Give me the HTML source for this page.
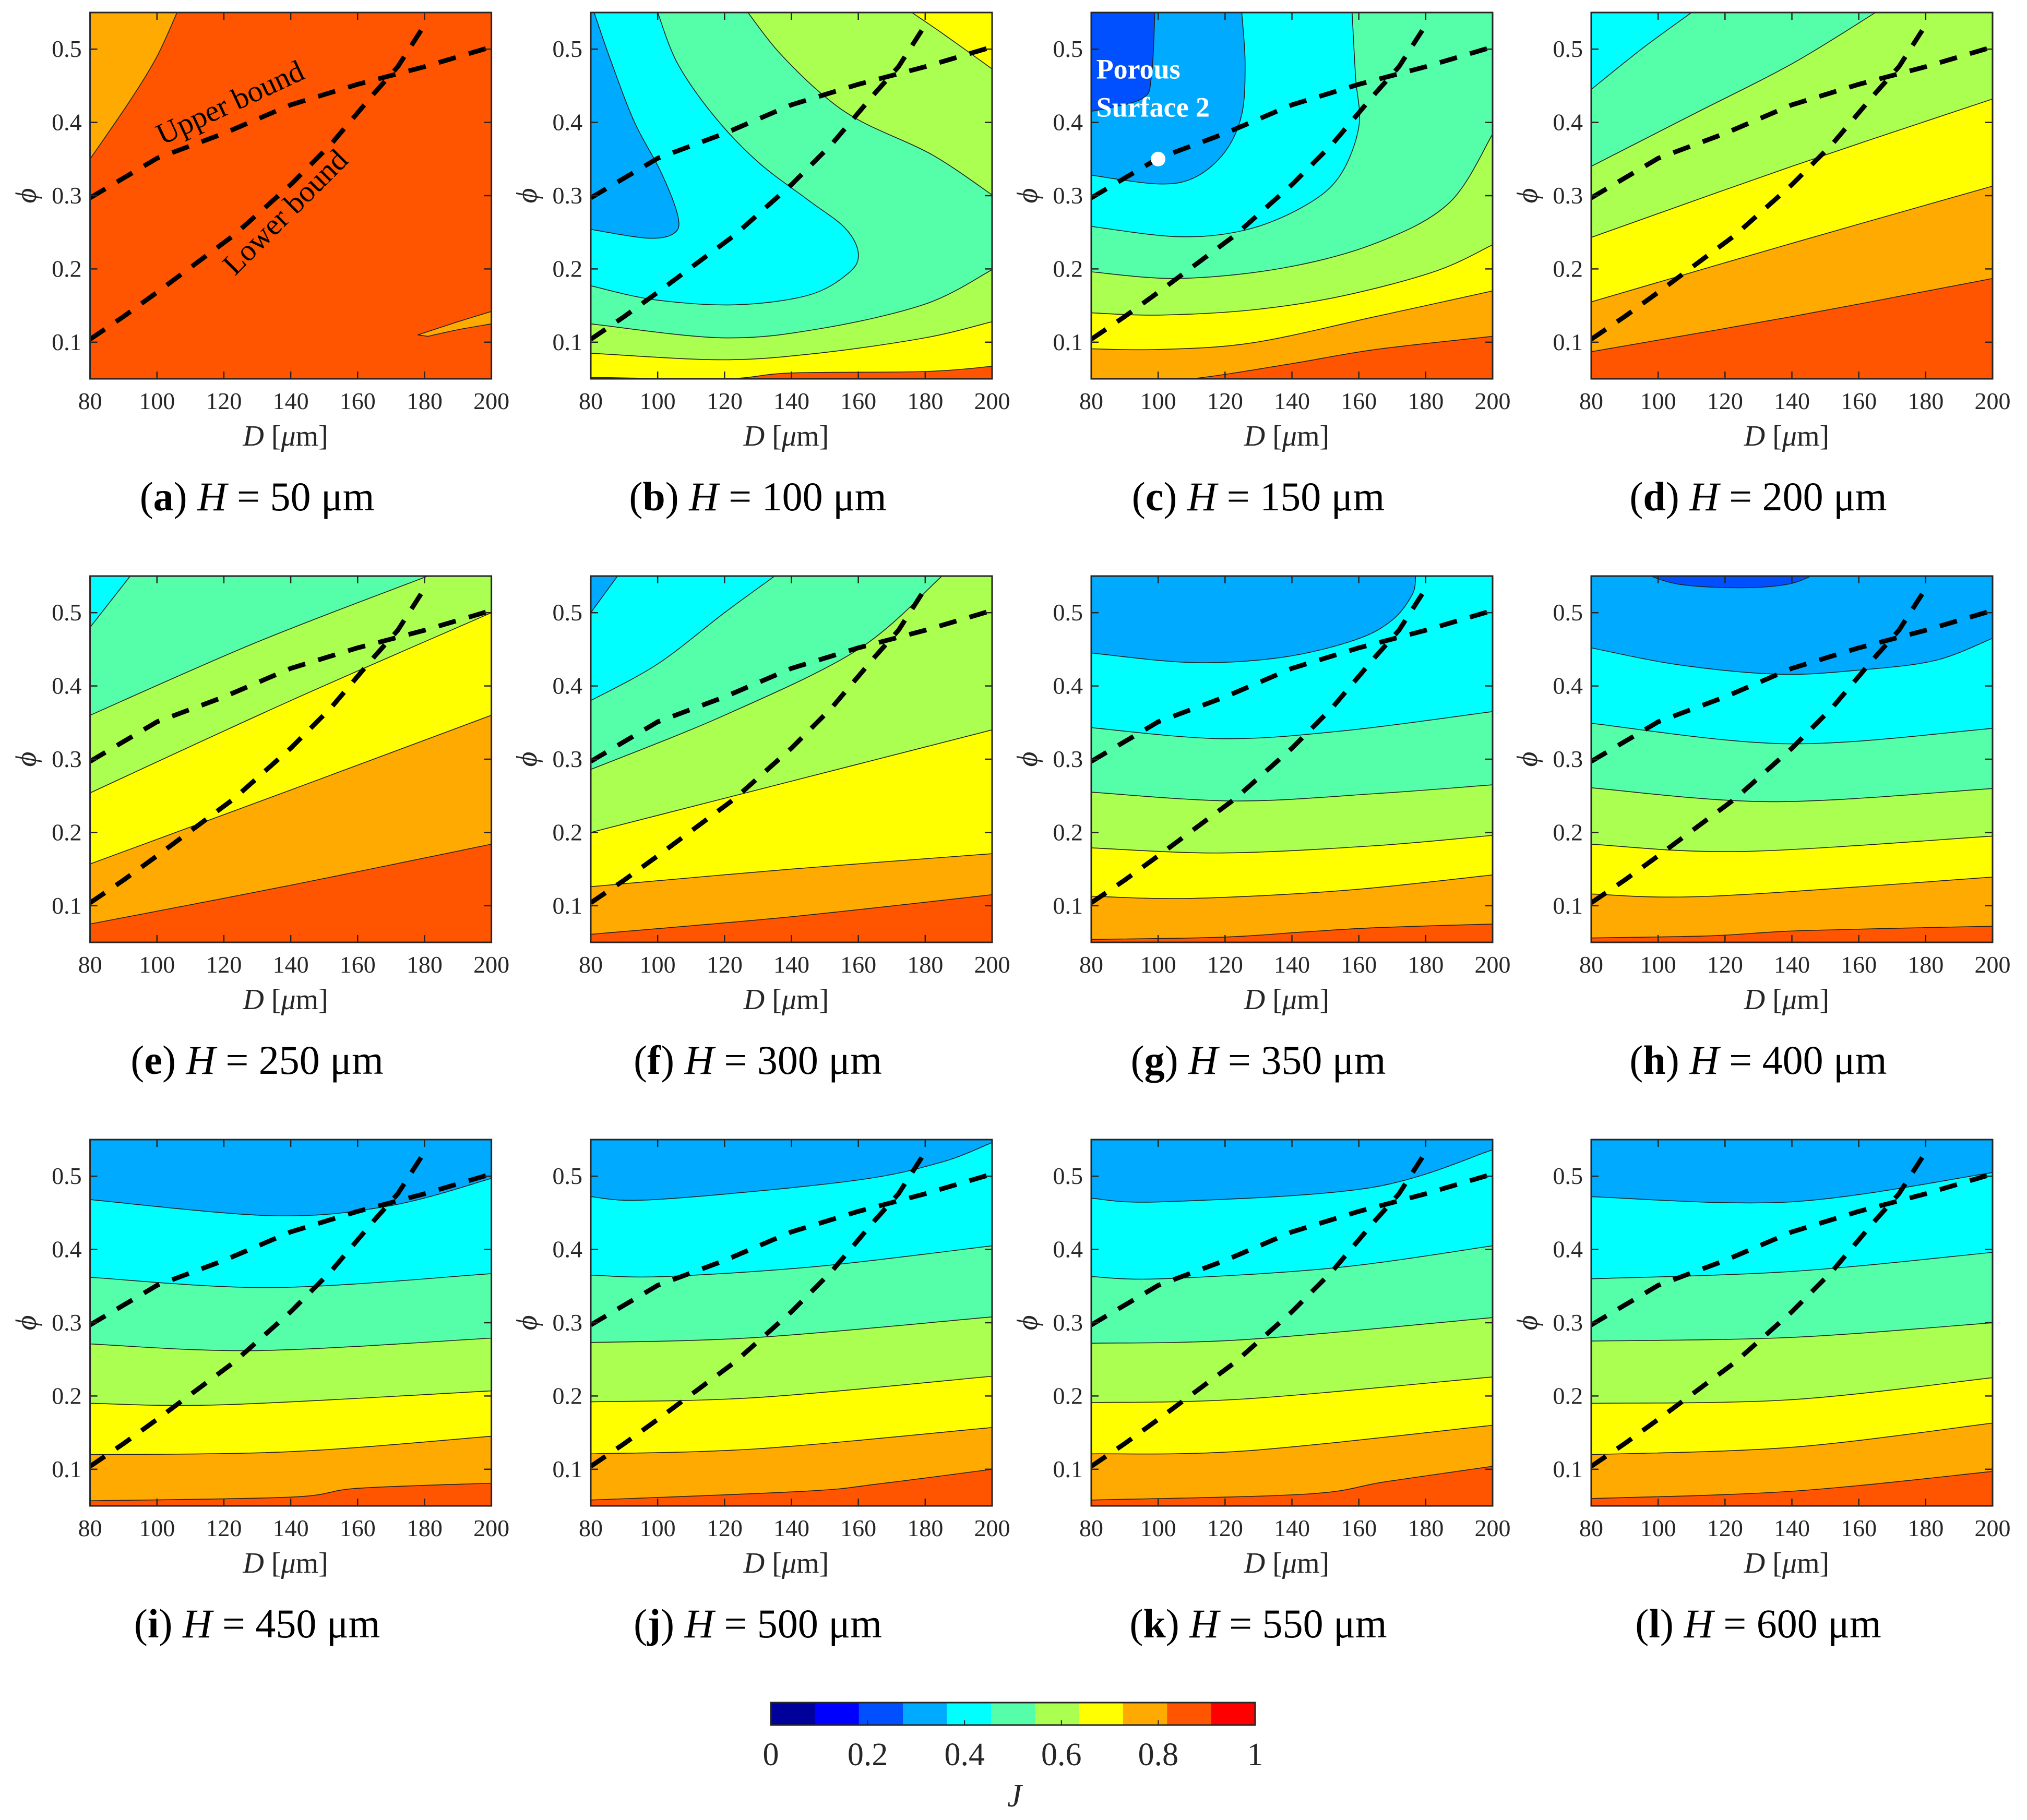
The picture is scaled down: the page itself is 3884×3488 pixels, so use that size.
<!DOCTYPE html>
<html><head><meta charset="utf-8"><style>
html,body{margin:0;padding:0;background:#fff;}
svg{display:block;}
text{font-family:"Liberation Serif",serif;fill:#262626;}
</style></head>
<body>
<svg id="fig" xmlns="http://www.w3.org/2000/svg" width="3884" height="3488" viewBox="0 0 3884 3488"></svg>
<script>
// ---------- data ----------
const COLORS = ['#00009a','#0000ff','#0050ff','#00aaff','#00ffff','#55ffaa','#aaff50','#ffff00','#ffaa00','#ff5500','#ff0000'];
const X_TICKS = [80,100,120,140,160,180,200];
const Y_TICKS = [0.1,0.2,0.3,0.4,0.5];
const CB_TICKS = [0,0.2,0.4,0.6,0.8,1];
const LETTERS = ['a','b','c','d','e','f','g','h','i','j','k','l'];
const H_VALUES = [50,100,150,200,250,300,350,400,450,500,550,600];
const UPPER_BOUND = [[80,0.297],[90,0.324],[100,0.351],[120,0.385],[140,0.424],[160,0.452],[180,0.476],[200,0.503]];
const LOWER_BOUND = [[80,0.104],[90,0.135],[100,0.168],[123,0.246],[140,0.315],[152,0.37],[165,0.44],[172,0.476],[181,0.54]];
const UP = [[215,0.7],[65,0.7]];
const panelA = [[8,[[80,0.35],[92,0.43],[100,0.49],[106,0.55]],[[106,0.7],[70,0.7],[70,0.35]]],
  [8,[[181,0.108],[190,0.117],[200,0.125]],[[200,0.142],[190,0.128],[178,0.11]]]];
const panelB = [[7,[[80,0.052],[120,0.05],[140,0.058],[180,0.06],[200,0.067]],UP],
  [6,[[80,0.085],[119,0.076],[148,0.085],[180,0.106],[200,0.128]],UP],
  [5,[[80,0.125],[119,0.106],[148,0.118],[180,0.152],[200,0.199]],UP],
  [4,[[80,0.177],[99,0.158],[123,0.151],[145,0.164],[157,0.194],[160,0.221],[156,0.256],[145,0.294],[130,0.346],[117,0.408],[106,0.48],[100,0.55]],[[98,0.7],[70,0.7],[70,0.177]]],
  [6,[[127,0.55],[136,0.497],[149,0.439],[161,0.401],[182,0.356],[200,0.301]],[[215,0.29],[215,0.7],[127,0.7]]],
  [7,[[176,0.55],[185,0.522],[200,0.473]],[[215,0.45],[215,0.7],[176,0.7]]],
  [3,[[81,0.55],[86,0.484],[93,0.401],[101,0.332],[106,0.273],[105,0.249],[97,0.242],[80,0.254]],[[70,0.254],[70,0.7],[81,0.7]]]];
const panelC = [[8,[[80,0.04],[110,0.05],[139,0.07],[165,0.09],[200,0.108]],UP],
  [7,[[80,0.091],[100,0.09],[128,0.099],[165,0.135],[200,0.17]],UP],
  [6,[[80,0.14],[100,0.137],[128,0.144],[155,0.163],[183,0.197],[200,0.233]],UP],
  [5,[[80,0.196],[106,0.187],[137,0.201],[165,0.235],[187,0.29],[200,0.384]],UP],
  [4,[[80,0.258],[106,0.244],[126,0.253],[143,0.284],[154,0.325],[160,0.394],[159,0.463],[158,0.55]],[[158,0.7],[70,0.7],[70,0.258]]],
  [3,[[80,0.328],[100,0.316],[111,0.325],[120,0.36],[125,0.411],[126,0.48],[125,0.55]],[[125,0.7],[70,0.7],[70,0.328]]],
  [2,[[99,0.55],[98,0.463],[95,0.432],[80,0.415]],[[70,0.415],[70,0.7],[99,0.7]]]];
const panelD = [[8,[[80,0.087],[140,0.135],[200,0.187]],UP],[7,[[80,0.155],[140,0.235],[200,0.313]],UP],
  [6,[[80,0.243],[140,0.34],[200,0.432]],UP],[5,[[80,0.34],[110,0.41],[140,0.48],[165,0.55]],UP],[4,[[80,0.445],[95,0.5],[110,0.55]],UP]];
const panelE = [[8,[[80,0.075],[140,0.128],[200,0.184]],UP],[7,[[80,0.157],[140,0.258],[200,0.36]],UP],
  [6,[[80,0.254],[140,0.38],[200,0.5]],UP],[5,[[80,0.36],[130,0.46],[181,0.55]],UP],[4,[[80,0.48],[92,0.55]],UP]];
const panelF = [[8,[[80,0.061],[140,0.085],[200,0.115]],UP],[7,[[80,0.126],[140,0.15],[200,0.171]],UP],
  [6,[[80,0.2],[140,0.27],[200,0.34]],UP],[5,[[80,0.286],[120,0.36],[160,0.45],[185,0.55]],UP],
  [4,[[80,0.38],[100,0.43],[120,0.5],[135,0.55]],UP],[3,[[80,0.5],[88,0.55]],UP]];
const panelG = [[8,[[80,0.054],[119,0.057],[143,0.064],[165,0.07],[200,0.075]],UP],
  [7,[[80,0.113],[110,0.11],[156,0.121],[200,0.142]],UP],
  [6,[[80,0.179],[119,0.172],[165,0.182],[200,0.196]],UP],
  [5,[[80,0.255],[123,0.243],[165,0.253],[200,0.265]],UP],
  [4,[[80,0.343],[119,0.328],[156,0.339],[200,0.365]],UP],
  [3,[[80,0.445],[110,0.432],[137,0.439],[159,0.463],[170,0.49],[176,0.525],[177,0.55]],UP]];
const panelH = [[8,[[80,0.056],[116,0.059],[143,0.066],[200,0.072]],UP],
  [7,[[80,0.116],[116,0.113],[200,0.139]],UP],
  [6,[[80,0.184],[125,0.174],[200,0.195]],UP],
  [5,[[80,0.261],[134,0.242],[200,0.26]],UP],
  [4,[[80,0.349],[139,0.321],[200,0.342]],UP],
  [3,[[80,0.452],[106,0.429],[136,0.416],[161,0.422],[183,0.435],[200,0.465]],UP],
  [2,[[95,0.555],[106,0.539],[124,0.534],[139,0.539],[148,0.555]],[[148,0.7],[95,0.7]]]];
const panelI = [[8,[[80,0.057],[140,0.062],[160,0.074],[200,0.081]],UP],[7,[[80,0.12],[140,0.124],[200,0.145]],UP],
  [6,[[80,0.19],[120,0.188],[200,0.207]],UP],[5,[[80,0.271],[130,0.262],[200,0.279]],UP],
  [4,[[80,0.362],[135,0.348],[200,0.367]],UP],[3,[[80,0.468],[135,0.446],[170,0.46],[200,0.497]],UP]];
const panelJ = [[8,[[80,0.058],[144,0.07],[166,0.08],[200,0.1]],UP],
  [7,[[80,0.121],[130,0.128],[200,0.157]],UP],
  [6,[[80,0.192],[130,0.198],[200,0.227]],UP],
  [5,[[80,0.273],[130,0.28],[200,0.308]],UP],
  [4,[[80,0.365],[102,0.363],[148,0.377],[200,0.405]],UP],
  [3,[[80,0.472],[99,0.468],[157,0.493],[184,0.518],[200,0.546]],UP]];
const panelK = [[8,[[80,0.058],[144,0.066],[168,0.083],[200,0.104]],UP],
  [7,[[80,0.121],[126,0.125],[200,0.16]],UP],
  [6,[[80,0.191],[126,0.196],[200,0.226]],UP],
  [5,[[80,0.272],[126,0.277],[200,0.307]],UP],
  [4,[[80,0.363],[101,0.36],[153,0.375],[200,0.405]],UP],
  [3,[[80,0.47],[101,0.465],[163,0.484],[200,0.536]],UP]];
const panelL = [[8,[[80,0.06],[140,0.07],[200,0.097]],UP],[7,[[80,0.12],[140,0.13],[200,0.163]],UP],
  [6,[[80,0.19],[140,0.195],[200,0.225]],UP],[5,[[80,0.275],[140,0.28],[200,0.3]],UP],
  [4,[[80,0.36],[140,0.37],[200,0.396]],UP],[3,[[80,0.472],[140,0.465],[200,0.505]],UP]];
const PANELS = [panelA,panelB,panelC,panelD,panelE,panelF,panelG,panelH,panelI,panelJ,panelK,panelL];
const BASE_COLOR = 9;

// ---------- layout ----------
const NS = 'http://www.w3.org/2000/svg';
const svg = document.getElementById('fig');
const COL_LEFT = [172.6,1132,2091,3049], ROW_TOP = [24,1104,2184], PW = 769, PH = 702;
function mk(tag, attrs, parent){ const e=document.createElementNS(NS,tag); for(const k in attrs) e.setAttribute(k,attrs[k]); (parent||svg).appendChild(e); return e; }

function smooth(pts){
  let d = 'M'+pts[0][0].toFixed(1)+','+pts[0][1].toFixed(1);
  for(let i=0;i<pts.length-1;i++){
    const p0=pts[Math.max(i-1,0)], p1=pts[i], p2=pts[i+1], p3=pts[Math.min(i+2,pts.length-1)];
    const c1=[p1[0]+(p2[0]-p0[0])/6, p1[1]+(p2[1]-p0[1])/6];
    const c2=[p2[0]-(p3[0]-p1[0])/6, p2[1]-(p3[1]-p1[1])/6];
    d += 'C'+c1[0].toFixed(1)+','+c1[1].toFixed(1)+' '+c2[0].toFixed(1)+','+c2[1].toFixed(1)+' '+p2[0].toFixed(1)+','+p2[1].toFixed(1);
  }
  return d;
}
function poly(pts){ return 'M'+pts.map(p=>p[0].toFixed(1)+','+p[1].toFixed(1)).join('L'); }

PANELS.forEach((layers, idx) => {
  const L = COL_LEFT[idx%4], T = ROW_TOP[Math.floor(idx/4)];
  const xs = D => L + (D-80)/120*PW;
  const ys = p => T + (0.55-p)/0.5*PH;
  const g = mk('g',{});
  
  
  const cp = mk('clipPath',{id:'clip'+idx}, g);
  mk('rect',{x:L,y:T,width:PW,height:PH}, cp);
  const plot = mk('g',{'clip-path':'url(#clip'+idx+')'}, g);
  const bg = mk('rect',{x:L,y:T,width:PW,height:PH,fill:COLORS[BASE_COLOR]}, plot);
  
  
  layers.forEach(layer => {
    const pts = layer[1].map(p=>[xs(p[0]),ys(p[1])]);
    let d = smooth(pts);
    layer[2].forEach(p => { d += 'L'+xs(p[0]).toFixed(1)+','+ys(p[1]).toFixed(1); });
    d += 'Z';
    const path = mk('path',{d:d,fill:COLORS[layer[0]],stroke:'#222','stroke-width':1.6}, plot);
    
    
  });
  [UPPER_BOUND, LOWER_BOUND].forEach((b,bi) => {
    const pl = mk('path',{d:poly(b.map(p=>[xs(p[0]),ys(p[1])])),fill:'none',stroke:'#000','stroke-width':9,'stroke-dasharray':'34 26','stroke-linejoin':'round'}, plot);
    
    
  });
  if(idx===0){
    const t1 = mk('text',{x:0,y:0,'font-size':58,style:'fill:#000',transform:'translate(449,214) rotate(-25)','text-anchor':'middle'}, plot);
    t1.textContent='Upper bound';
    
    
    const t2 = mk('text',{x:0,y:0,'font-size':58,style:'fill:#000',transform:'translate(560,420) rotate(-45)','text-anchor':'middle'}, plot);
    t2.textContent='Lower bound';
    
    
  }
  if(idx===2){
    const t = mk('text',{x:xs(81.5),y:ys(0.46),'font-size':54,'font-weight':'bold',style:'fill:#fff'}, plot);
    t.textContent='Porous';
    
    
    const t2 = mk('text',{x:xs(81.5),y:ys(0.408),'font-size':54,'font-weight':'bold',style:'fill:#fff'}, plot);
    t2.textContent='Surface 2';
    
    
    const dot = mk('circle',{cx:xs(100),cy:ys(0.35),r:14,fill:'#fff'}, plot);
    
    
  }
  const frame = mk('rect',{x:L,y:T,width:PW,height:PH,fill:'none',stroke:'#262626','stroke-width':3}, g);
  
  
  X_TICKS.forEach(v => {
    const x = xs(v);
    mk('line',{x1:x,y1:T+PH,x2:x,y2:T+PH-14,stroke:'#262626','stroke-width':2.5}, g);
    mk('line',{x1:x,y1:T,x2:x,y2:T+14,stroke:'#262626','stroke-width':2.5}, g);
    const t = mk('text',{x:x,y:T+PH+58,'font-size':46,'text-anchor':'middle'}, g);
    t.textContent = v;
    
    
  });
  Y_TICKS.forEach(v => {
    const y = ys(v);
    mk('line',{x1:L,y1:y,x2:L+14,y2:y,stroke:'#262626','stroke-width':2.5}, g);
    mk('line',{x1:L+PW,y1:y,x2:L+PW-14,y2:y,stroke:'#262626','stroke-width':2.5}, g);
    const t = mk('text',{x:L-16,y:y+15,'font-size':46,'text-anchor':'end'}, g);
    t.textContent = v.toFixed(1);
    
    
  });
  const xl = mk('text',{x:L+PW/2-10,y:T+PH+128,'font-size':56,'text-anchor':'middle'}, g);
  xl.innerHTML = '<tspan font-style="italic">D</tspan> [<tspan font-style="italic">μ</tspan>m]';
  
  
  const yl = mk('text',{x:0,y:0,'font-size':56,'font-style':'italic','text-anchor':'middle',transform:'translate('+(L-104)+','+ys(0.3)+') rotate(-90)'}, g);
  yl.textContent = 'ϕ';
  
  
  const cap = mk('text',{x:L+320,y:T+954,'font-size':78,'text-anchor':'middle',style:'fill:#000'}, g);
  cap.innerHTML = '(<tspan font-weight="bold">'+LETTERS[idx]+'</tspan>) <tspan font-style="italic">H</tspan> = '+H_VALUES[idx]+' μm';
  
  
});

// ---------- colorbar ----------
const CB_L = 1477, CB_R = 2405, CB_T = 3263, CB_B = 3306;
const cb = mk('g',{});


const segW = (CB_R-CB_L)/COLORS.length;
COLORS.forEach((c,i) => {
  const r = mk('rect',{x:CB_L+i*segW,y:CB_T,width:segW+0.5,height:CB_B-CB_T,fill:c}, cb);
  
  
});
mk('rect',{x:CB_L,y:CB_T,width:CB_R-CB_L,height:CB_B-CB_T,fill:'none',stroke:'#262626','stroke-width':3}, cb);
CB_TICKS.forEach(v => {
  const x = CB_L + v*(CB_R-CB_L);
  mk('line',{x1:x,y1:CB_B,x2:x,y2:CB_B-9,stroke:'#262626','stroke-width':2}, cb);
  const t = mk('text',{x:x,y:3383,'font-size':62,'text-anchor':'middle'}, cb);
  t.textContent = v;
  
  
});
const jl = mk('text',{x:1944,y:3462,'font-size':62,'font-style':'italic','text-anchor':'middle'}, cb);
jl.textContent = 'J';


</script>
</body></html>
